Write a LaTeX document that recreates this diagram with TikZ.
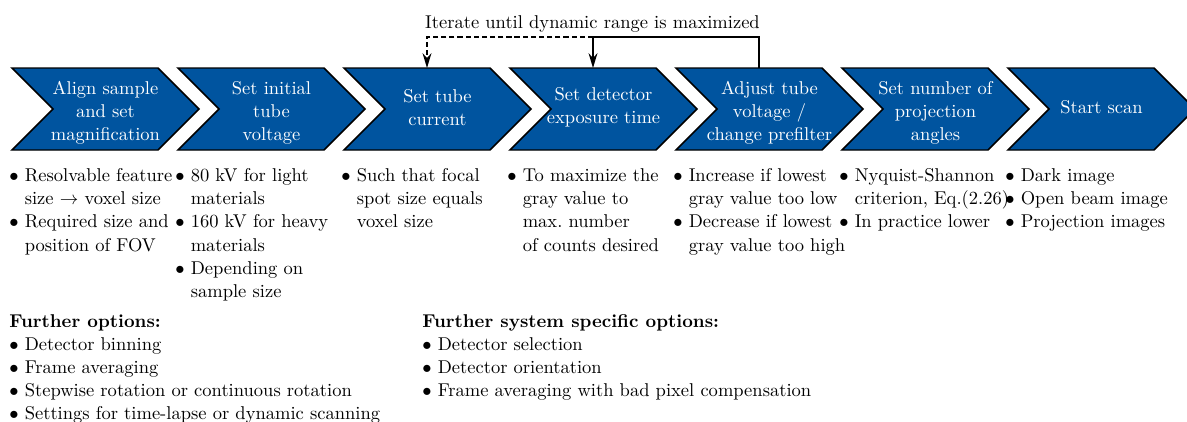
\documentclass[tikz,border=0pt]{standalone}
\usetikzlibrary{arrows.meta}
\definecolor{chevblue}{RGB}{0,84,159}
\tikzset{
  chevron/.style={fill=chevblue, draw=black, line width=0.8pt, line join=miter},
  chevtext/.style={text=white, align=center, inner sep=0pt, font={\fontsize{10}{12.5}\selectfont}},
  conn/.style={line width=0.8pt},
  tipped/.style={-{Stealth[length=8pt,width=4.8pt]}},
  loopdash/.style={dash pattern=on 2.8pt off 1.6pt},
  blist/.style={anchor=base west, inner sep=0pt},
}
\newcommand\chev[4]{%
  \draw[chevron] (#2,68) -- ++(146,0) -- ++(41,41) -- ++(-41,41) -- ++(-146,0) -- ++(41,-41) -- cycle;
  \node[chevtext] (#1) at (#2+93.5,#3) {#4};
  \coordinate (#1top) at (#2+83,68);
}
\newcommand\bl{$\bullet$~}
\newcommand\ind{\hphantom{$\bullet$~}}
\begin{document}
\begin{tikzpicture}[x=0.54pt,y=-0.54pt]
\useasboundingbox (0,0) rectangle (1187,421);
\chev{c1}{12}{113}{Align sample\\and set\\magnification}
\chev{c2}{178}{113}{Set initial\\tube\\voltage}
\chev{c3}{344}{107.5}{Set tube\\current}
\chev{c4}{510}{107.5}{Set detector\\exposure time}
\chev{c5}{676}{113}{Adjust tube\\voltage /\\change prefilter}
\chev{c6}{842}{113}{Set number of\\projection\\angles}
\chev{c7}{1008}{107}{Start scan}

\node[anchor=base, inner sep=0pt] (lbl) at (592.5,28) {Iterate until dynamic range is maximized};
\coordinate (h) at (0,37);
\draw[conn,tipped] (c5top) -- (c5top |- h) -- (c4top |- h) -- (c4top);
\draw[conn,loopdash,tipped] (c4top |- h) -- (c3top |- h) -- (c3top);

\renewcommand\arraystretch{1.05}
\node[blist] (l1) at (9,181) {\begin{tabular}[t]{@{}l@{}}\bl Resolvable feature\\ \ind size $\rightarrow$ voxel size\\ \bl Required size and\\ \ind position of FOV\end{tabular}};
\node[blist] (l2) at (175,181) {\begin{tabular}[t]{@{}l@{}}\bl 80 kV for light\\ \ind materials\\ \bl 160 kV for heavy\\ \ind materials\\ \bl Depending on\\ \ind sample size\end{tabular}};
\node[blist] (l3) at (341,181) {\begin{tabular}[t]{@{}l@{}}\bl Such that focal\\ \ind spot size equals\\ \ind voxel size\end{tabular}};
\node[blist] (l4) at (507,181) {\begin{tabular}[t]{@{}l@{}}\bl To maximize the\\ \ind gray value to\\ \ind max.\ number\\ \ind of counts desired\end{tabular}};
\node[blist] (l5) at (673,181) {\begin{tabular}[t]{@{}l@{}}\bl Increase if lowest\\ \ind gray value too low\\ \bl Decrease if lowest\\ \ind gray value too high\end{tabular}};
\node[blist] (l6) at (839,181) {\begin{tabular}[t]{@{}l@{}}\bl Nyquist-Shannon\\ \ind criterion, Eq.(2.26)\\ \bl In practice lower\end{tabular}};
\node[blist] (l7) at (1005,181) {\begin{tabular}[t]{@{}l@{}}\bl Dark image\\ \bl Open beam image\\ \bl Projection images\end{tabular}};

\renewcommand\arraystretch{1.035}
\node[blist] (fo) at (9,327) {\begin{tabular}[t]{@{}l@{}}\textbf{Further options:}\\ \bl Detector binning\\ \bl Frame averaging\\ \bl Stepwise rotation or continuous rotation\\ \bl Settings for time-lapse or dynamic scanning\end{tabular}};
\node[blist] (fs) at (422,327) {\begin{tabular}[t]{@{}l@{}}\textbf{Further system specific options:}\\ \bl Detector selection\\ \bl Detector orientation\\ \bl Frame averaging with bad pixel compensation\end{tabular}};
\end{tikzpicture}
\end{document}
